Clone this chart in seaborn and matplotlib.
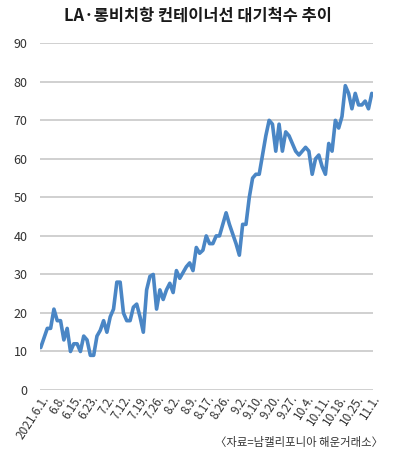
import matplotlib

matplotlib.use("Agg")
import matplotlib.pyplot as plt
import numpy as np
import pandas as pd
import seaborn as sns

# daily waiting ships (LA / Long Beach)
waiting = [
    11, 13.5, 16, 16, 21, 18, 18, 13, 16, 10,
    12, 12, 10, 14, 13, 9, 9, 14, 15.5, 18,
    15, 19, 21, 28, 28, 20, 18, 18, 21.5, 22.3,
    19, 15, 26, 29.5, 30, 21, 26, 23.5, 26, 27.7,
    25.3, 31, 29, 30.5, 32, 33, 31, 37, 35.5, 36.3,
    40, 38, 38, 40, 40, 43, 46, 43, 40.5, 38,
    35, 43, 43, 50, 55, 56, 56, 61, 66, 70,
    69, 62, 69, 62, 67, 66, 64, 62, 61, 62,
    63, 62, 56, 60, 61, 58, 56, 64, 62, 70,
    68, 71, 79, 77, 73, 77, 74, 74, 75, 73,
    77,
]
date_labels = [
    "2021.6.1.", "6.8.", "6.15.", "6.23.", "7.2.", "7.12.", "7.19.",
    "7.26.", "8.2.", "8.9.", "8.17.", "8.26.", "9.2.", "9.10.", "9.20.",
    "9.27.", "10.4.", "10.11.", "10.18.", "10.25.", "11.1.",
]
label_step = 5

df = pd.DataFrame({"idx": np.arange(len(waiting)), "ships": waiting})

sns.set_style("white")
plt.rcParams["font.family"] = ["Noto Sans CJK KR", "DejaVu Sans"]

fig = plt.figure(figsize=(3.97, 4.69), dpi=100)
ax = fig.add_axes([0.1008, 0.1684, 0.8382, 0.7393])

sns.lineplot(data=df, x="idx", y="ships", ax=ax, color="#4a86c5", linewidth=2.6)

ax.set_ylim(0, 90)
ax.set_xlim(-0.2, 100.3)
ax.set_yticks(range(0, 91, 10))
ax.yaxis.grid(True, color="#c4c4c4", linewidth=1.1)
ax.xaxis.grid(False)
ax.set_axisbelow(True)
for side in ax.spines.values():
    side.set_visible(False)

ax.set_xticks(np.arange(0, len(waiting), label_step))
ax.set_xticklabels(date_labels, rotation=57, ha="right", rotation_mode="anchor",
                   fontsize=8.5, color="#333333")
ax.tick_params(axis="y", labelsize=9, labelcolor="#333333", length=0, pad=9)
ax.tick_params(axis="x", length=0, pad=2)
ax.set_xlabel("")
ax.set_ylabel("")

fig.text(0.498, 0.966, "LA·롱비치항 컨테이너선 대기척수 추이", ha="center", va="center",
         fontsize=11.8, fontweight="bold", color="#1a1a1a")
fig.text(0.965, 0.057, "〈자료=남캘리포니아 해운거래소〉", ha="right", va="center",
         fontsize=8.2, color="#333333")

fig.savefig("out.png", dpi=100, facecolor="white")
